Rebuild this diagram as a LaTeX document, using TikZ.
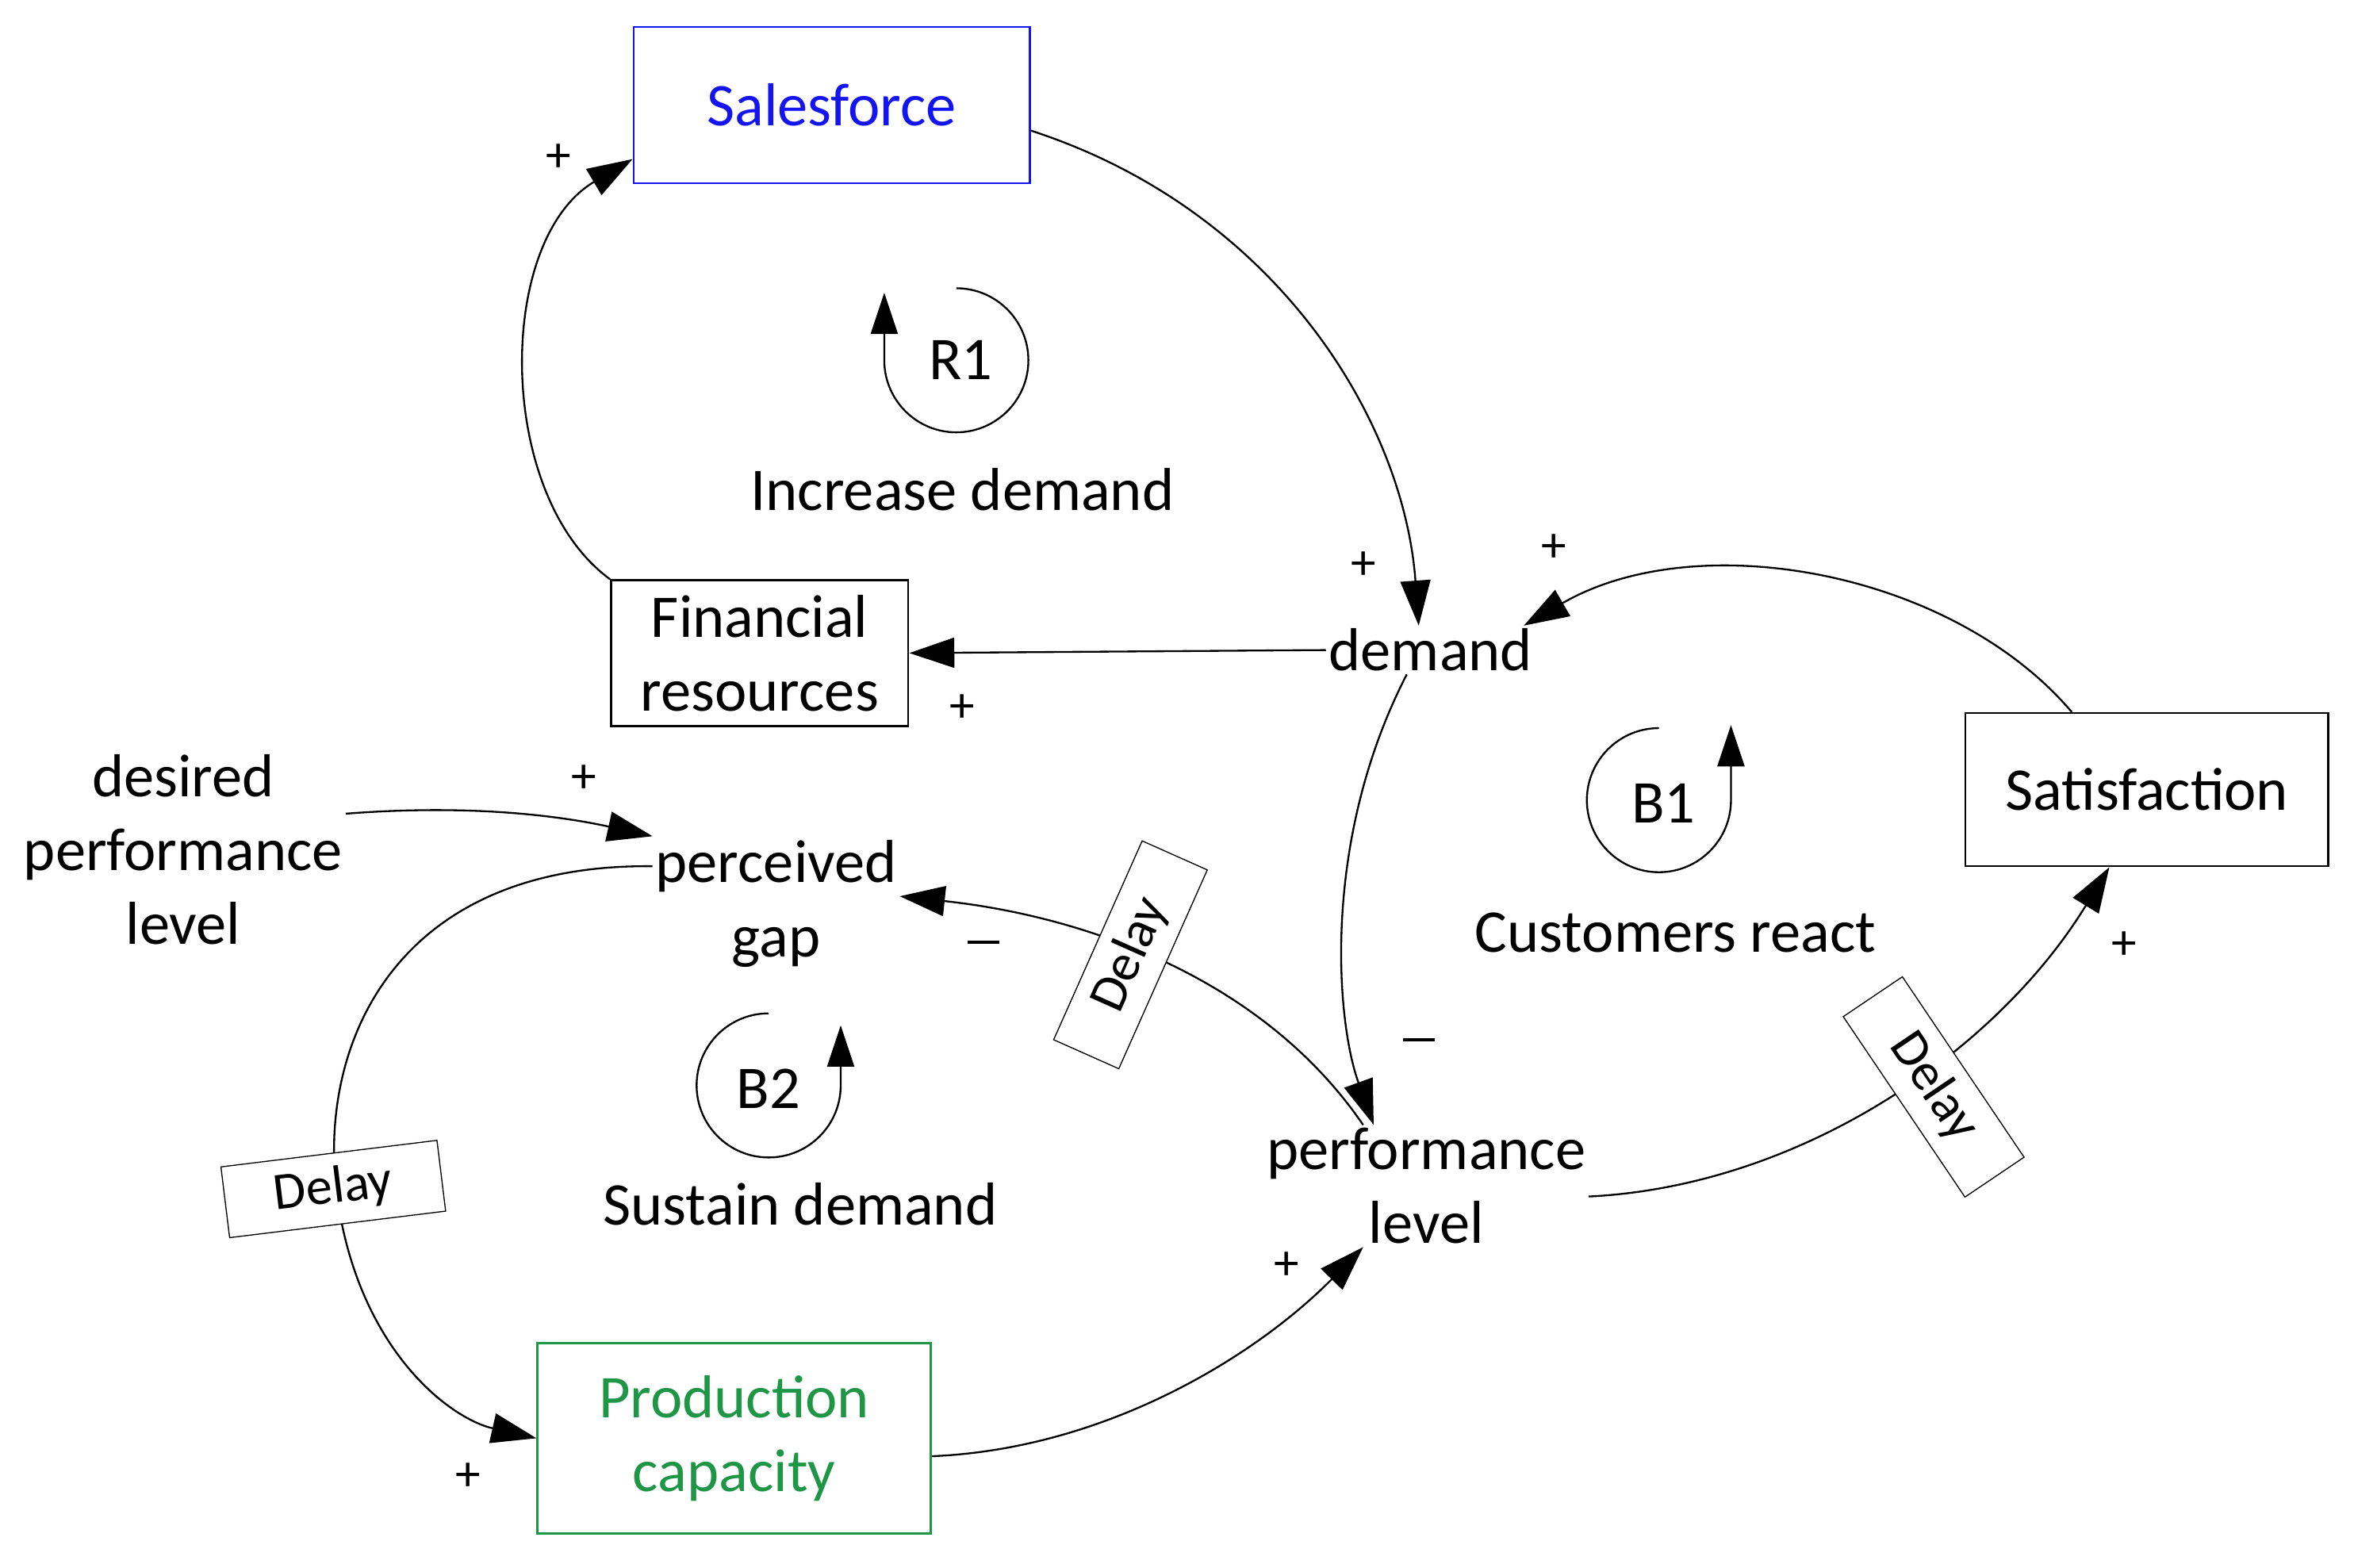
\documentclass[tikz,border=0pt]{standalone}
\usepackage{fontspec}
\setmainfont{Carlito}
\usetikzlibrary{arrows.meta}
\definecolor{sfblue}{RGB}{20,20,240}
\definecolor{pcgreen}{RGB}{30,150,70}
\begin{document}
\begin{tikzpicture}[x=0.02cm,y=-0.02cm,
  every node/.style={font=\fontsize{23pt}{28pt}\selectfont, align=center},
  box/.style={draw, thick, minimum width=#1},
  lab/.style={inner sep=1pt},
  sgn/.style={font=\fontsize{19pt}{20pt}\selectfont},
  delay/.style={draw, fill=white, font=\fontsize{20pt}{22pt}\selectfont, minimum width=2.9cm, minimum height=0.95cm, inner sep=1pt},
  link/.style={-{Triangle[length=0.6cm,width=0.4cm]}, line width=0.7pt},
  loop/.style={-{Triangle[length=0.55cm,width=0.36cm]}, line width=0.7pt}]
\useasboundingbox (0,0) rectangle (1568,1044);
% boxes
\node[box, draw=sfblue, text=sfblue, minimum width=5.28cm, minimum height=2.08cm] (sf) at (554,70) {Salesforce};
\node[box, minimum width=3.96cm, minimum height=1.94cm] (fin) at (506,435) {Financial\\resources};
\node[box, minimum width=4.84cm, minimum height=2.04cm] (sat) at (1430,526) {Satisfaction};
\node[box, draw=pcgreen, text=pcgreen, minimum width=5.24cm, minimum height=2.54cm] (pc) at (489,958) {Production\\capacity};
% variables
\node[lab] (dem) at (953,433) {demand};
\node[lab] (gap) at (517,602) {perceived\\gap};
\node[lab] (perf) at (950,790) {performance\\level};
\node[lab] (des) at (122,566) {desired\\performance\\level};
% loop labels
\node (r1) at (640,240) {R1};
\node (r1t) at (641,326) {Increase demand};
\node (b1) at (1108,535) {B1};
\node (b1t) at (1116,621) {Customers react};
\node (b2) at (512,725) {B2};
\node (b2t) at (533,802) {Sustain demand};
% loop arrows
\draw[loop] (637,192) arc[start angle=90, end angle=-180, radius=0.96cm] -- ++(0,-45);
\draw[loop] (1105,485) arc[start angle=90, end angle=360, radius=0.96cm] -- ++(0,-50);
\draw[loop] (512,675) arc[start angle=90, end angle=360, radius=0.96cm] -- ++(0,-40);
% connectors
\draw[link] (fin.north west) .. controls (330,330) and (330,160) .. (sf.west|-0,106);
\draw[link] (sf.east|-0,87) .. controls (850,140) and (935,280) .. (dem.north -| 945,0);
\draw[link] (dem.west) -- (fin.east);
\draw[link] (sat.north -| 1380,0) .. controls (1300,380) and (1130,350) .. (dem.north east -| 1015,0);
\draw[link] (dem.south -| 937,0) .. controls (880,560) and (890,680) .. (perf.north -| 915,0);
\draw[link] (perf.east|-0,797) .. controls (1200,790) and (1330,700) .. (sat.south -| 1405,0);
\draw[link] (perf.north -| 908,0) .. controls (840,650) and (720,610) .. (gap.east|-0,597);
\draw[link] (des.east|-0,542) .. controls (320,535) and (380,545) .. (gap.west|-0,557);
\draw[link] (gap.west|-0,577) .. controls (260,575) and (210,700) .. (225,800) .. controls (240,900) and (300,945) .. (pc.west|-0,958);
\draw[link] (pc.east|-0,970) .. controls (740,965) and (840,900) .. (perf.south -| 908,0);
% delays
\node[delay, rotate=-56] (d1) at (1288,724) {Delay};
\node[delay, rotate=66] (d2) at (753,636) {Delay};
\node[delay, rotate=7] (d3) at (222,792) {Delay};
% polarity signs
\node[sgn] (s1) at (372,105) {+};
\node[sgn] (s2) at (908,377) {+};
\node[sgn] (s3) at (641,472) {+};
\node[sgn] (s4) at (1035,365) {+};
\node[sgn] (s5) at (945,697) {\rule[0.25em]{0.42cm}{1.2pt}};
\node[sgn] (s6) at (1415,630) {+};
\node[sgn] (s7) at (655,632) {\rule[0.25em]{0.42cm}{1.2pt}};
\node[sgn] (s8) at (389,519) {+};
\node[sgn] (s9) at (312,984) {+};
\node[sgn] (s10) at (857,843) {+};
\end{tikzpicture}
\end{document}
